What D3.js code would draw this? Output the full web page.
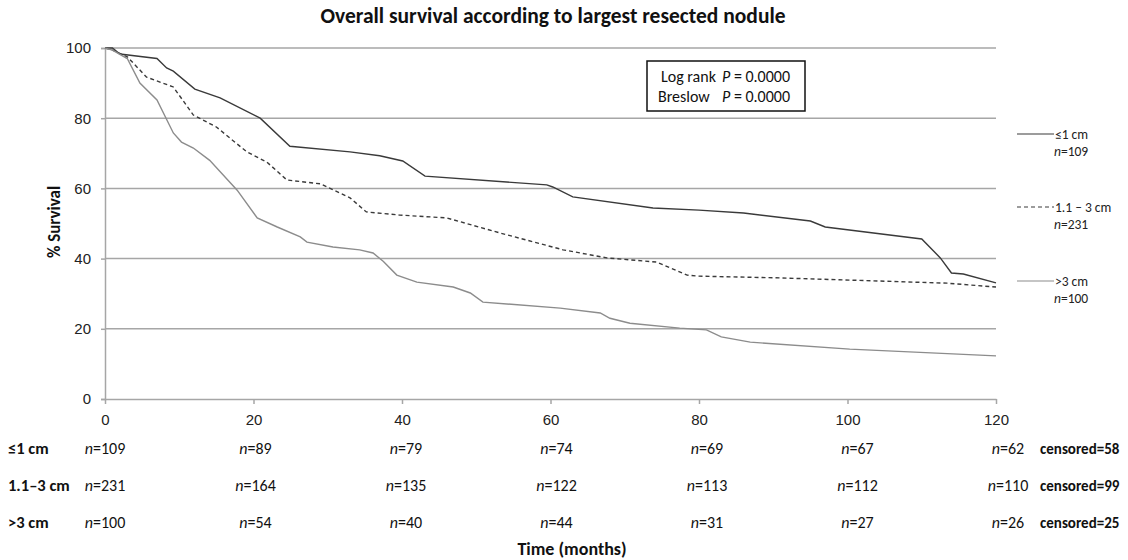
<!DOCTYPE html>
<html>
<head>
<meta charset="utf-8">
<script src="https://cdn.jsdelivr.net/npm/d3@7"></script>
<style>
  body { margin: 0; background: #fff; }
  svg { font-family: Carlito, Lato, 'Open Sans', sans-serif; }
</style>
</head>
<body>
<div id="chart"></div>
<script>
const FONT_SIZE = 15
const GRID_COLOR = '#a6a6a6'

// survival curves (months, % survival)
const le1Time = [0, 1, 2, 7, 8.3, 9.2, 12.1, 15.5, 20.9, 24.9, 33, 37, 40.1, 43.1, 59.5, 60.3, 63, 73.8, 80, 86, 95, 97, 110, 112.5, 114, 115.6, 120]
const le1Surv = [100, 100, 98.3, 97, 94.3, 93.4, 88.3, 85.8, 80, 72, 70.4, 69.3, 67.8, 63.5, 61, 60.4, 57.6, 54.4, 53.8, 53, 50.7, 49, 45.6, 40.2, 35.9, 35.6, 33.1]
const mid13Time = [0, 1, 3, 5.6, 9.2, 11.9, 15, 19.1, 21.8, 24.5, 29, 33, 35.2, 39.7, 46, 53.2, 61.7, 67.6, 74.3, 78.4, 80, 90.9, 113.4, 120]
const mid13Surv = [100, 99.4, 97.5, 91.7, 88.9, 80.9, 77.5, 70.4, 67.5, 62.4, 61.3, 57.3, 53.3, 52.4, 51.6, 47.3, 42.5, 40.2, 39, 35.3, 35, 34.5, 33, 31.9]
const gt3Time = [0, 1, 3, 4.7, 7, 9.2, 10.3, 11.9, 14.1, 17.8, 20.5, 23.2, 26.3, 27.2, 30.7, 34.3, 36.1, 37.5, 39.3, 42, 46.9, 49.2, 50.9, 61.3, 66.7, 68, 70.7, 77.4, 81, 83, 86.9, 100.3, 120]
const gt3Surv = [100, 99.4, 97, 90, 85.2, 75.8, 73.2, 71.5, 68, 59.5, 51.6, 49, 46.2, 44.7, 43.3, 42.5, 41.6, 39.2, 35.3, 33.3, 31.9, 30.2, 27.6, 25.9, 24.5, 23, 21.6, 20.2, 19.7, 17.7, 16.2, 14.2, 12.3]

// number at risk table
const riskTimes = [0, 20, 40, 60, 80, 100, 120]
const riskLe1 = [109, 89, 79, 74, 69, 67, 62]
const riskMid = [231, 164, 135, 122, 113, 112, 110]
const riskGt3 = [100, 54, 40, 44, 31, 27, 26]
const censored = [58, 99, 25]
const groupLabels = ['≤1 cm', '1.1–3 cm', '>3 cm']
const legendLabels = ['≤1 cm', '1.1 – 3 cm', '>3 cm']
const groupN = [109, 231, 100]
const yTicks = [0, 20, 40, 60, 80, 100]

const width = 1128
const height = 560
const margin = {top: 48, right: 132, bottom: 161, left: 105}

const svg = d3.select('#chart').append('svg')
  .attr('width', width)
  .attr('height', height)

const xScale = d3.scaleLinear().domain([0, 120]).range([margin.left, width - margin.right])
const yScale = d3.scaleLinear().domain([0, 100]).range([height - margin.bottom, margin.top])

// gridlines
svg.append('g')
  .selectAll('line')
  .data(yTicks.filter(d => d > 0))
  .join('line')
  .attr('x1', xScale(0)).attr('x2', xScale(120))
  .attr('y1', d => yScale(d)).attr('y2', d => yScale(d))
  .attr('stroke', GRID_COLOR)
  .attr('stroke-width', 1.5)

// Y axis
const yAxis = svg.append('g')
  .attr('transform', 'translate(' + margin.left + ',0)')
  .call(d3.axisLeft(yScale).tickValues(yTicks).tickSize(4).tickPadding(10))
yAxis.selectAll('path, line').attr('stroke', GRID_COLOR).attr('stroke-width', 1.5)
yAxis.selectAll('text').attr('font-size', FONT_SIZE).attr('fill', '#222').style('font-family', 'inherit')

// X axis
const xAxis = svg.append('g')
  .attr('transform', 'translate(0,' + yScale(0) + ')')
  .call(d3.axisBottom(xScale).tickValues(riskTimes).tickSize(5).tickSizeOuter(0).tickPadding(10))
xAxis.selectAll('path, line').attr('stroke', GRID_COLOR).attr('stroke-width', 1.5)
xAxis.selectAll('text').attr('font-size', FONT_SIZE).attr('fill', '#222').style('font-family', 'inherit')

// Curves
const line = d3.line().x(d => xScale(d[0])).y(d => yScale(d[1]))
const series = [
  {t: le1Time, s: le1Surv, color: '#3a3a3a', dash: null},
  {t: mid13Time, s: mid13Surv, color: '#3a3a3a', dash: '4,3'},
  {t: gt3Time, s: gt3Surv, color: '#8c8c8c', dash: null}
]
series.forEach(function (d) {
  svg.append('path')
    .datum(d3.zip(d.t, d.s))
    .attr('d', line)
    .attr('fill', 'none')
    .attr('stroke', d.color)
    .attr('stroke-width', 1.4)
    .attr('stroke-dasharray', d.dash)
})

// Legend
const legendY = [134, 207, 281]
series.forEach(function (d, i) {
  svg.append('line')
    .attr('x1', 1017).attr('x2', 1054)
    .attr('y1', legendY[i]).attr('y2', legendY[i])
    .attr('stroke', d.color)
    .attr('stroke-width', 1.2)
    .attr('stroke-dasharray', d.dash)
  svg.append('text')
    .attr('x', 1055).attr('y', legendY[i] + 5)
    .attr('font-size', 13.5)
    .attr('fill', '#222')
    .text(legendLabels[i])
  const nt = svg.append('text')
    .attr('x', 1054).attr('y', legendY[i] + 22)
    .attr('font-size', 13.5)
    .attr('fill', '#222')
  nt.append('tspan').attr('font-style', 'italic').text('n')
  nt.append('tspan').text('=' + groupN[i])
})

// P value box
svg.append('rect')
  .attr('x', 647).attr('y', 61)
  .attr('width', 158).attr('height', 50)
  .attr('fill', '#fff')
  .attr('stroke', '#111')
  .attr('stroke-width', 1.5)
const pLines = [['Log rank', 76, 661], ['Breslow', 96, 658]]
pLines.forEach(function (p) {
  svg.append('text')
    .attr('x', p[2]).attr('y', p[1] + 6)
    .attr('font-size', 16).attr('fill', '#111')
    .text(p[0])
  const t = svg.append('text')
    .attr('x', 722).attr('y', p[1] + 6)
    .attr('font-size', 16).attr('fill', '#111')
  t.append('tspan').attr('font-style', 'italic').text('P')
  t.append('tspan').text(' = 0.0000')
})

// Title
svg.append('text')
  .attr('x', 553).attr('y', 23)
  .attr('text-anchor', 'middle')
  .attr('font-size', 21.5)
  .attr('font-weight', 'bold')
  .attr('fill', '#111')
  .text('Overall survival according to largest resected nodule')

// Y title
svg.append('text')
  .attr('transform', 'translate(60,222) rotate(-90)')
  .attr('text-anchor', 'middle')
  .attr('font-size', 17)
  .attr('font-weight', 'bold')
  .attr('fill', '#111')
  .text('% Survival')

// Number at risk table
const rowY = [448, 485, 522]
const riskRows = [riskLe1, riskMid, riskGt3]
riskRows.forEach(function (row, i) {
  svg.append('text')
    .attr('x', 8).attr('y', rowY[i] + 6)
    .attr('font-size', 16.5)
    .attr('font-weight', 'bold')
    .attr('fill', '#111')
    .text(groupLabels[i])
  row.forEach(function (n, j) {
    const t = riskTimes[j]
    const cell = svg.append('text')
      .attr('x', xScale(t) + t / 120 * 12)
      .attr('y', rowY[i] + 6)
      .attr('text-anchor', 'middle')
      .attr('font-size', 16)
      .attr('fill', '#111')
    cell.append('tspan').attr('font-style', 'italic').text('n')
    cell.append('tspan').text('=' + n)
  })
  svg.append('text')
    .attr('x', 1040).attr('y', rowY[i] + 6)
    .attr('font-size', 15)
    .attr('font-weight', 'bold')
    .attr('fill', '#111')
    .text('censored=' + censored[i])
})

// X title
svg.append('text')
  .attr('x', 572).attr('y', 555)
  .attr('text-anchor', 'middle')
  .attr('font-size', 18)
  .attr('font-weight', 'bold')
  .attr('fill', '#111')
  .text('Time (months)')
</script>
</body>
</html>
